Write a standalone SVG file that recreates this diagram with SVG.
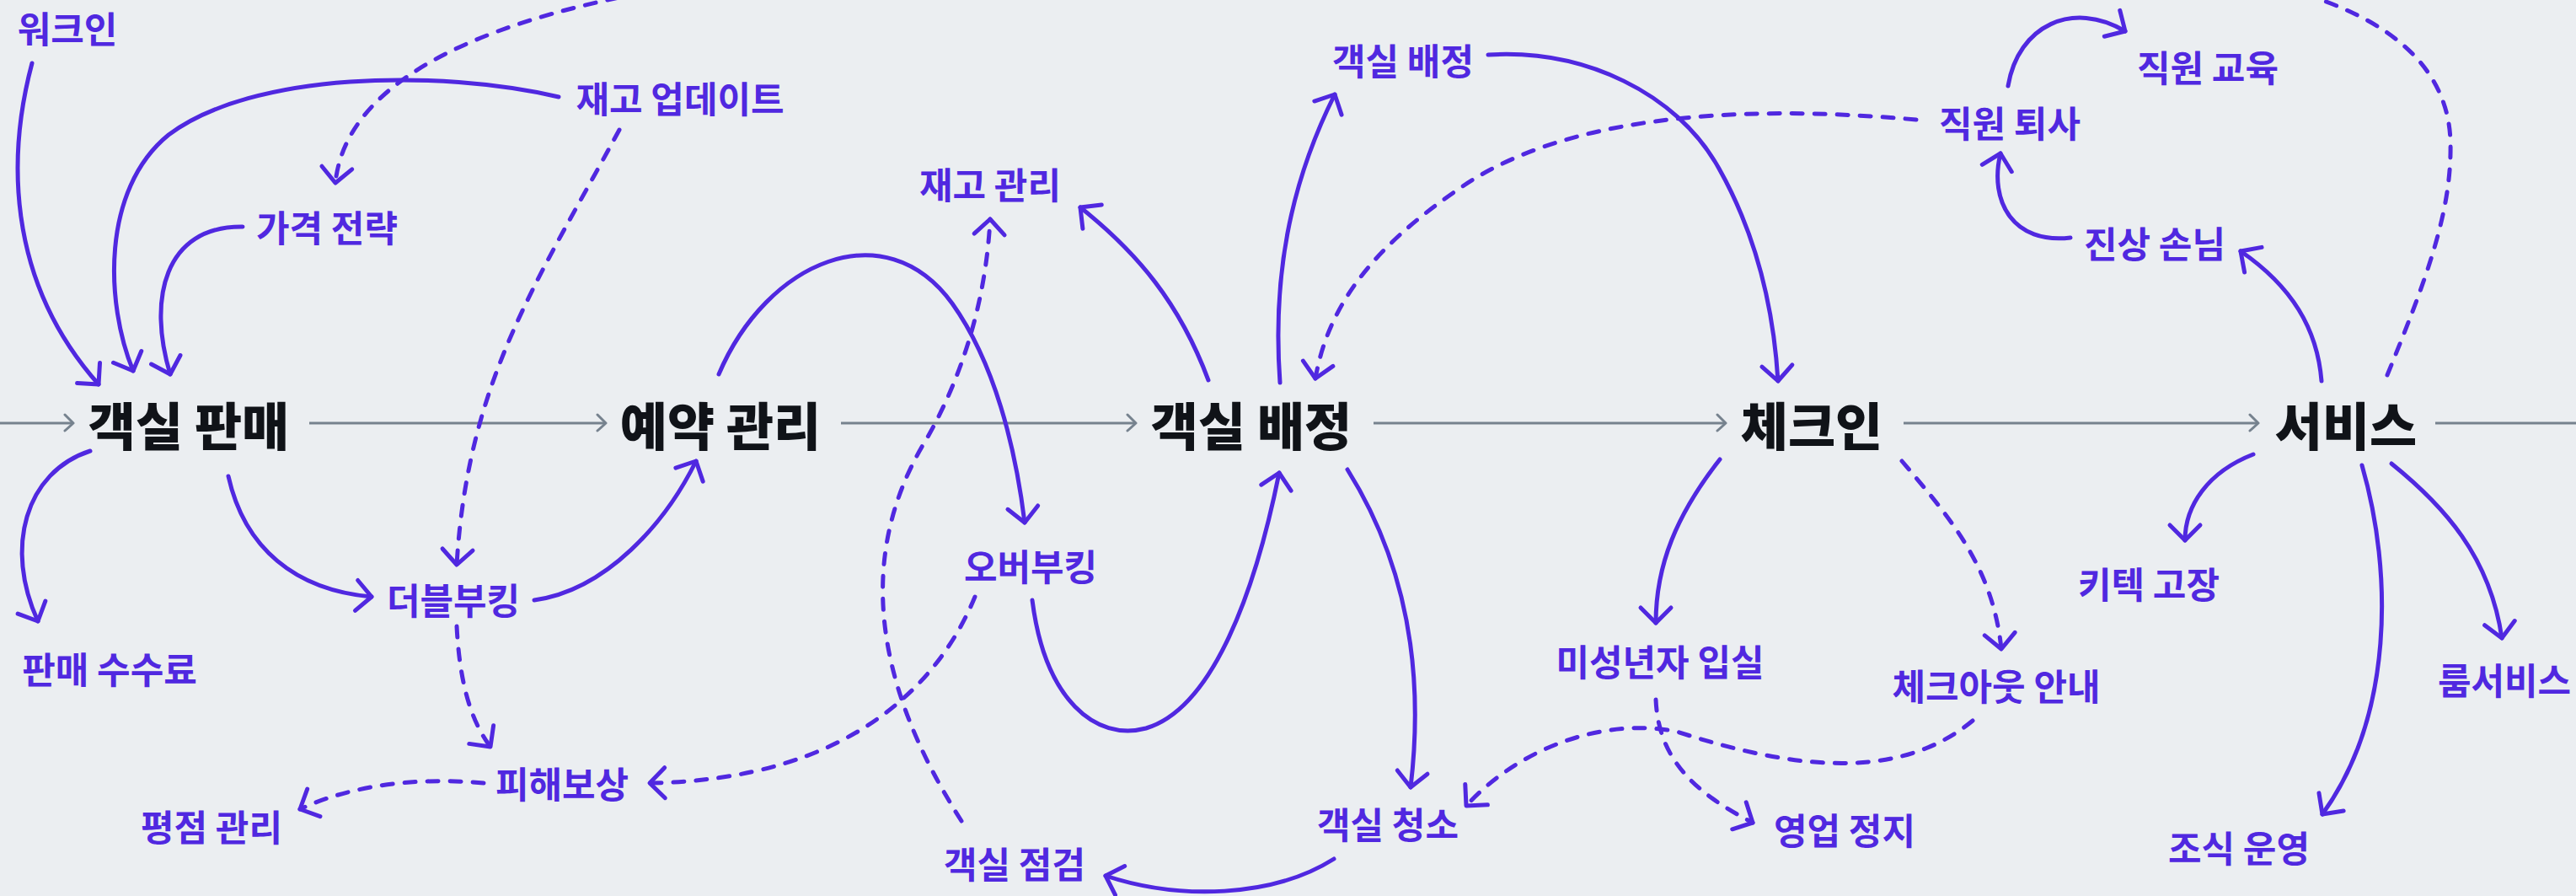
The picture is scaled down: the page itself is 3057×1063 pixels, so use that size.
<svg xmlns="http://www.w3.org/2000/svg" width="3057" height="1063" viewBox="0 0 3057 1063">
<defs>
<style>
.bg{fill:#ebeef1}
.main{font-family:"Noto Sans CJK KR","Noto Sans",sans-serif;font-size:61px;font-weight:900;fill:#101318;text-anchor:middle;dominant-baseline:central}
.lbl{font-family:"Noto Sans CJK KR","Noto Sans",sans-serif;font-size:43px;font-weight:700;fill:#5028e0;text-anchor:middle;dominant-baseline:central}
.flow{fill:none;stroke:#76828e;stroke-width:3;marker-end:url(#ga)}
.c{fill:none;stroke:#5028e0;stroke-width:5;stroke-linecap:round;marker-end:url(#pa)}
.d{stroke-dasharray:13 14}
</style>
<marker id="pa" markerUnits="userSpaceOnUse" orient="auto" refX="0" refY="0" markerWidth="60" markerHeight="60" viewBox="-30 -30 60 60" overflow="visible">
<path d="M-18,-18 L0,0 L-18,18" fill="none" stroke="#5028e0" stroke-width="5" stroke-linecap="round" stroke-linejoin="round"/>
</marker>
<marker id="ga" markerUnits="userSpaceOnUse" orient="auto" refX="0" refY="0" markerWidth="30" markerHeight="30" viewBox="-15 -15 30 30" overflow="visible">
<path d="M-10,-10 L0,0 L-10,9" fill="none" stroke="#76828e" stroke-width="3" stroke-linecap="round" stroke-linejoin="round"/>
</marker>
</defs>
<rect class="bg" x="0" y="0" width="3057" height="1063"/>

<g id="connectors">
<path class="flow" d="M0 502 L87 502"/>
<path class="flow" d="M367 502 L719 502"/>
<path class="flow" d="M998 502 L1348 502"/>
<path class="flow" d="M1630 502 L2048 502"/>
<path class="flow" d="M2259 502 L2680 502"/>
<path class="flow" d="M2890 502 L3075 502"/>

<path class="c" d="M38 75 C 10 180, 5 330, 117 456"/>
<path class="c" d="M663 115 C 520 82, 300 85, 200 160 C 120 225, 125 360, 158 440"/>
<path class="c" d="M288 269 C 195 268, 175 355, 202 444"/>
<path class="c d" d="M760 -8 C 560 30, 410 100, 398 217"/>
<path class="c d" d="M735 154 C 640 330, 555 450, 542 670"/>
<path class="c" d="M107 535 C 30 560, 5 650, 45 737"/>
<path class="c" d="M271 565 C 290 650, 350 700, 441 708"/>
<path class="c" d="M634 712 C 720 700, 790 620, 826 547"/>
<path class="c d" d="M542 743 C 545 800, 555 850, 582 886"/>
<path class="c d" d="M574 929 C 500 922, 420 930, 356 960"/>
<path class="c d" d="M1157 708 C 1115 810, 1010 925, 771 929"/>
<path class="c d" d="M1141 974 C 1030 800, 1020 650, 1100 520 C 1140 450, 1170 360, 1175 260"/>
<path class="c" d="M853 444 C 910 310, 1050 250, 1130 360 C 1180 430, 1205 530, 1216 620"/>
<path class="c" d="M1434 451 C 1400 360, 1350 300, 1282 246"/>
<path class="c" d="M1225 712 C 1240 830, 1300 880, 1360 864 C 1440 840, 1490 700, 1518 561"/>
<path class="c" d="M1519 454 C 1510 330, 1530 220, 1584 112"/>
<path class="c" d="M1766 65 C 1880 58, 1990 110, 2040 200 C 2085 280, 2105 370, 2110 452"/>
<path class="c d" d="M2274 142 C 2050 122, 1850 140, 1730 225 C 1620 300, 1575 370, 1561 449"/>
<path class="c" d="M2457 282 C 2390 290, 2360 240, 2374 182"/>
<path class="c" d="M2383 102 C 2395 30, 2460 0, 2522 37"/>
<path class="c" d="M2755 452 C 2750 390, 2720 340, 2659 298"/>
<path class="c d" style="marker-end:none" d="M2833 445 C 2880 330, 2910 250, 2908 168 C 2906 90, 2850 30, 2740 -5"/>
<path class="c" d="M2041 545 C 1990 610, 1965 670, 1965 739"/>
<path class="c d" d="M2257 547 C 2310 610, 2365 670, 2375 770"/>
<path class="c d" d="M2341 855 C 2250 930, 2120 910, 1990 868 C 1900 850, 1800 890, 1740 956"/>
<path class="c d" d="M1965 830 C 1968 900, 2010 940, 2080 976"/>
<path class="c" d="M1599 557 C 1670 670, 1690 800, 1674 934"/>
<path class="c" d="M1583 1019 C 1510 1065, 1400 1068, 1312 1039"/>
<path class="c" d="M2674 539 C 2620 560, 2593 600, 2593 641"/>
<path class="c" d="M2838 550 C 2900 600, 2955 660, 2969 757"/>
<path class="c" d="M2803 552 C 2840 680, 2840 850, 2756 966"/>
</g>

<g id="n-room-sales"><text class="main" x="224" y="502">객실 판매</text></g>
<g id="n-reservation"><text class="main" x="855" y="502">예약 관리</text></g>
<g id="n-room-assign"><text class="main" x="1485" y="502">객실 배정</text></g>
<g id="n-checkin"><text class="main" x="2150" y="502">체크인</text></g>
<g id="n-service"><text class="main" x="2784" y="502">서비스</text></g>

<g id="l-walkin"><text class="lbl" x="80" y="32">워크인</text></g>
<g id="l-pricing"><text class="lbl" x="388" y="268">가격 전략</text></g>
<g id="l-inv-update"><text class="lbl" x="807" y="115">재고 업데이트</text></g>
<g id="l-inv-mgmt"><text class="lbl" x="1175" y="217">재고 관리</text></g>
<g id="l-room-assign2"><text class="lbl" x="1665" y="70">객실 배정</text></g>
<g id="l-resign"><text class="lbl" x="2385" y="144">직원 퇴사</text></g>
<g id="l-training"><text class="lbl" x="2620" y="78">직원 교육</text></g>
<g id="l-badguest"><text class="lbl" x="2557" y="287">진상 손님</text></g>
<g id="l-commission"><text class="lbl" x="130" y="792">판매 수수료</text></g>
<g id="l-double"><text class="lbl" x="538" y="710">더블부킹</text></g>
<g id="l-compensation"><text class="lbl" x="667" y="928">피해보상</text></g>
<g id="l-rating"><text class="lbl" x="251" y="979">평점 관리</text></g>
<g id="l-overbooking"><text class="lbl" x="1223" y="670">오버부킹</text></g>
<g id="l-inspection"><text class="lbl" x="1204" y="1023">객실 점검</text></g>
<g id="l-cleaning"><text class="lbl" x="1647" y="976">객실 청소</text></g>
<g id="l-minor"><text class="lbl" x="1970" y="783">미성년자 입실</text></g>
<g id="l-suspension"><text class="lbl" x="2189" y="983">영업 정지</text></g>
<g id="l-checkout"><text class="lbl" x="2369" y="812">체크아웃 안내</text></g>
<g id="l-keycard"><text class="lbl" x="2550" y="691">키텍 고장</text></g>
<g id="l-roomservice"><text class="lbl" x="2972" y="805">룸서비스</text></g>
<g id="l-breakfast"><text class="lbl" x="2657" y="1004">조식 운영</text></g>
</svg>
